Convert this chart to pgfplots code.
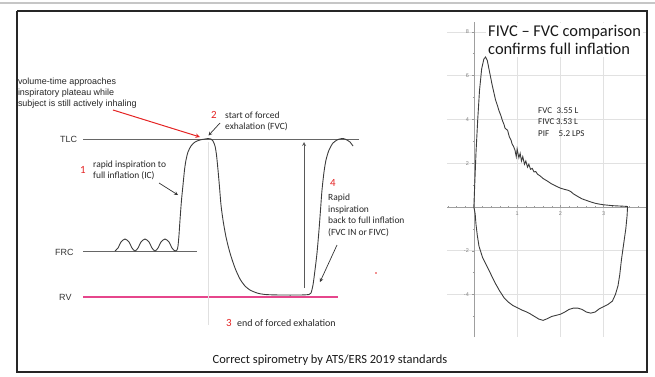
\documentclass[border=0pt]{standalone}
\usepackage{pgfplots}
\pgfplotsset{compat=1.18}
\usepackage{fontspec}
\setmainfont{Carlito}
\newfontfamily\arial{Liberation Sans}
\definecolor{pinkline}{RGB}{230,70,140}
\definecolor{rednum}{RGB}{228,35,35}
\definecolor{curve}{RGB}{60,60,60}
\definecolor{gridc}{RGB}{225,225,225}
\begin{document}
\begin{tikzpicture}
\useasboundingbox (0,0) rectangle (655bp,377bp);
% ---------------- flow-volume loop ----------------
\begin{axis}[at={(447bp,40bp)}, anchor=south west, scale only axis,
  width=200bp, height=315bp,
  xmin=-0.62, xmax=4.0, ymin=-5.94, ymax=8.45,
  axis lines=middle, axis line style={-, gray!75, line width=0.6bp},
  xtick={1,2,3}, ytick={-6,-4,-2,2,4,6,8},
  yticklabels={,-4,-2,2,4,6,8},
  minor xtick={-0.6,-0.4,...,3.8},
  minor ytick={-5,-3,-1,1,3,5,7},
  grid=major, major grid style={gridc, line width=0.6bp},
  tick align=center, major tick length=3bp, minor tick length=2bp,
  tick style={gray!80, line width=0.5bp},
  minor tick style={gray!80, line width=0.5bp},
  tick label style={font=\arial\fontsize{5.5}{6}\selectfont, text=gray},
  /pgf/number format/assume math mode=true,
  clip=false]
\addplot[curve, line width=0.9bp] coordinates {
(0,0) (0.02,1.0) (0.05,2.5) (0.09,4.0) (0.13,5.3) (0.18,6.3) (0.23,6.75) (0.27,6.85)
(0.31,6.7) (0.36,6.2) (0.42,5.6) (0.50,4.9) (0.55,4.6) (0.58,4.4) (0.62,4.2) (0.66,3.95)
(0.70,3.75) (0.72,3.6) (0.75,3.55) (0.78,3.5) (0.82,3.2) (0.86,3.05) (0.88,2.9) (0.92,2.75)
(0.95,2.6) (0.98,2.3) (1.00,2.65) (1.04,2.25) (1.07,2.45) (1.10,2.1) (1.13,2.3) (1.17,1.95)
(1.20,2.1) (1.24,1.82) (1.27,1.95) (1.31,1.72) (1.35,1.76) (1.39,1.6) (1.43,1.62)
(1.47,1.5) (1.53,1.42) (1.60,1.3) (1.70,1.18) (1.80,1.05) (1.90,0.95) (2.00,0.86)
(2.10,0.80) (2.18,0.76) (2.24,0.70) (2.30,0.60) (2.40,0.48) (2.50,0.37) (2.60,0.30)
(2.70,0.23) (2.80,0.17) (2.90,0.13) (3.00,0.10) (3.10,0.08) (3.20,0.06) (3.30,0.05)
(3.40,0.04) (3.50,0.03) (3.55,0.02) (3.55,0)};
\addplot[curve, line width=0.9bp] coordinates {
(3.55,0) (3.54,-0.4) (3.51,-1.0) (3.46,-1.7) (3.41,-2.4) (3.37,-3.1) (3.33,-3.6)
(3.27,-4.0) (3.20,-4.3) (3.10,-4.45) (3.00,-4.55) (2.90,-4.65) (2.80,-4.8) (2.70,-4.85)
(2.60,-4.8) (2.50,-4.68) (2.40,-4.62) (2.30,-4.62) (2.20,-4.68) (2.10,-4.8) (2.00,-4.9)
(1.90,-4.95) (1.80,-5.0) (1.70,-5.1) (1.60,-5.18) (1.50,-5.12) (1.40,-5.0) (1.30,-4.88)
(1.20,-4.78) (1.10,-4.7) (1.00,-4.6) (0.90,-4.5) (0.80,-4.35) (0.70,-4.15) (0.60,-3.85)
(0.50,-3.5) (0.40,-3.1) (0.30,-2.7) (0.20,-2.3) (0.12,-1.8) (0.08,-1.3) (0.05,-0.8)
(0.03,-0.3) (0,0)};
\end{axis}
% ---------------- volume-time diagram + annotations ----------------
\begin{axis}[at={(0,0)}, anchor=south west, scale only axis,
  width=655bp, height=377bp, xmin=0, xmax=655, ymin=0, ymax=377,
  y dir=reverse, hide axis, clip=false]
% top separator and frame
\addplot[gray!45, line width=2bp] coordinates {(0,3) (655,3)};
\addplot[black!85, line width=1.2bp] coordinates {(17,11) (647,11) (647,372) (17,372) (17,11)};
% reference levels
\addplot[black!60, line width=0.8bp] coordinates {(83,139) (359,139)};
\addplot[black!60, line width=0.8bp] coordinates {(83,251.5) (197,251.5)};
\addplot[pinkline, line width=2bp] coordinates {(83,297) (338,297)};
% faint vertical line
\addplot[black!12, line width=0.6bp] coordinates {(208,142) (208,325)};
% volume-time curve
\addplot[curve, line width=0.9bp, smooth, tension=0.45] coordinates {
(115,251) (118,248) (121,242) (125,239) (129,242) (132,248) (135,251) (138,248) (141,242)
(145,239) (149,242) (152,248) (155,251) (158,248) (161,242) (165,239) (169,242) (172,248)
(175,251) (177,250) (178,246) (179,235) (180,220) (181.5,200) (183,185) (184.5,170)
(186,160) (188,152) (191,146) (195,142) (200,140) (205,139) (208,138.5) (211,139)
(213,141) (215,146) (216.5,155) (218,170) (219.5,187) (221,205) (223,220) (226,237)
(230,253) (235,268) (240,279) (245,286) (250,290) (257,293) (265,294.5) (280,295)
(300,295) (309,294.5) (311,293) (313,285) (315,270) (317,253) (319,230) (320.5,210)
(322,190) (324,172) (326,160) (329,150) (333,143) (338,139.5) (343,138.5) (347,140)
(350,142) (353,146)};
% vertical arrow
\draw[black!65, line width=0.8bp, -stealth] (axis cs:304,288) -- (axis cs:304,142);
% labels
\node[anchor=west, inner sep=0, font=\arial\fontsize{9}{9}\selectfont, text=black!80] at (axis cs:60,139) {TLC};
\node[anchor=west, inner sep=0, font=\arial\fontsize{9}{9}\selectfont, text=black!80] at (axis cs:55,252) {FRC};
\node[anchor=west, inner sep=0, font=\arial\fontsize{9}{9}\selectfont, text=black!80] at (axis cs:59,297) {RV};
\node[anchor=west, inner sep=0, align=left, font=\arial\fontsize{9}{11}\selectfont, text=black!85] at (axis cs:17.8,93) {volume-time approaches\\inspiratory plateau while\\subject is still actively inhaling};
\draw[rednum, line width=1bp, -stealth] (axis cs:113,110) -- (axis cs:200,137);
\node[inner sep=0, font=\fontsize{11}{11}\selectfont, text=rednum] at (axis cs:214,115) {2};
\node[anchor=west, inner sep=0, align=left, font=\fontsize{9.5}{11.5}\selectfont, text=black!85] at (axis cs:225,121.5) {start of forced\\exhalation (FVC)};
\draw[black!80, line width=0.7bp, -stealth] (axis cs:220,123) -- (axis cs:208.5,135.5);
\node[inner sep=0, font=\fontsize{11}{11}\selectfont, text=rednum] at (axis cs:83,170) {1};
\node[anchor=west, inner sep=0, align=left, font=\fontsize{9.5}{11.5}\selectfont, text=black!85] at (axis cs:93,170.5) {rapid inspiration to\\full inflation (IC)};
\draw[black!80, line width=0.7bp, -stealth] (axis cs:159,183) -- (axis cs:178,195);
\node[inner sep=0, font=\fontsize{11}{11}\selectfont, text=rednum] at (axis cs:333,183) {4};
\node[anchor=west, inner sep=0, align=left, font=\fontsize{9.5}{11.7}\selectfont, text=black!85] at (axis cs:328,215.5) {Rapid\\inspiration\\back to full inflation\\(FVC IN or FIVC)};
\draw[black!80, line width=0.7bp, -stealth] (axis cs:337,245) -- (axis cs:320,282);
\node[inner sep=0, font=\fontsize{11}{11}\selectfont, text=rednum] at (axis cs:229,323) {3};
\node[anchor=west, inner sep=0, font=\fontsize{10}{10}\selectfont, text=black!85] at (axis cs:237,323) {end of forced exhalation};
\fill[rednum] (axis cs:376,273) circle[radius=0.8bp];
\node[inner sep=0, font=\fontsize{12.5}{12.5}\selectfont, text=black!90] at (axis cs:330,360) {Correct spirometry by ATS/ERS 2019 standards};
% flow-volume annotations
\node[anchor=west, inner sep=0, align=left, font=\fontsize{9}{11.2}\selectfont, text=black!85] at (axis cs:538,122) {\makebox[18.5bp][l]{FVC}3.55 L\\\makebox[18bp][l]{FIVC}3.53 L\\\makebox[20.5bp][l]{PIF}5.2 LPS};
\node[anchor=west, fill=white, inner sep=2bp, align=left, font=\fontsize{16.5}{18}\selectfont, text=black!90] at (axis cs:486,40) {FIVC -- FVC comparison\\confirms full inflation};
\end{axis}
\end{tikzpicture}
\end{document}
